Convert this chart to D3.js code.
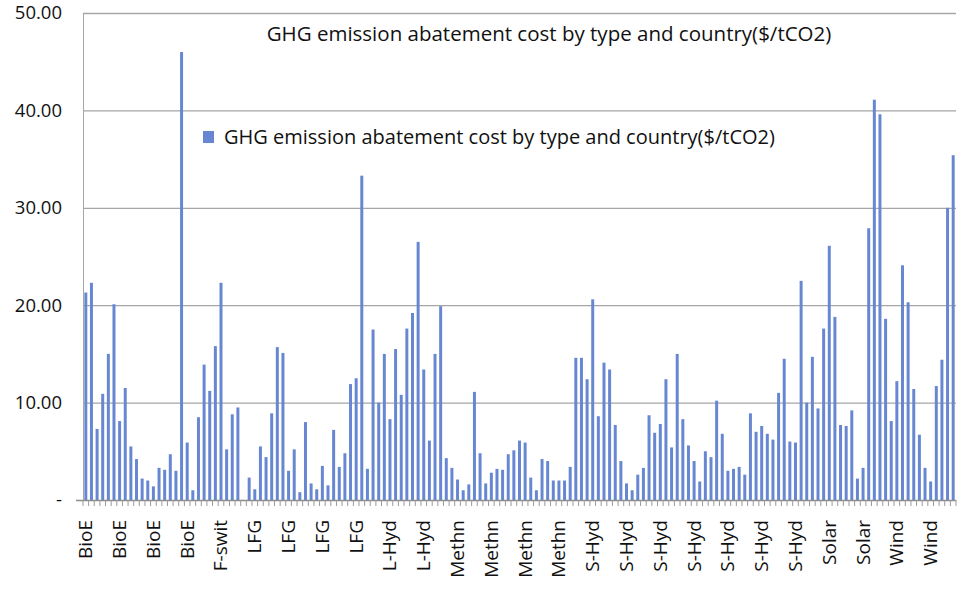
<!DOCTYPE html>
<html>
<head>
<meta charset="utf-8">
<script src="https://cdn.jsdelivr.net/npm/d3@7"></script>
<style>
  html, body { margin: 0; padding: 0; background: #fff; }
  svg { display: block; font-family: "Open Sans", "Noto Sans", sans-serif; }
</style>
</head>
<body>
<svg id="chart" width="966" height="595"></svg>
<script>
const chartTitle = "GHG emission abatement cost by type and country($/tCO2)";
const seriesName = "GHG emission abatement cost by type and country($/tCO2)";

// Labels shown on the category axis (one every 6 categories)
const tickLabels = ["BioE","BioE","BioE","BioE","F-swit","LFG","LFG","LFG","LFG",
  "L-Hyd","L-Hyd","Methn","Methn","Methn","Methn",
  "S-Hyd","S-Hyd","S-Hyd","S-Hyd","S-Hyd","S-Hyd","S-Hyd",
  "Solar","Solar","Wind","Wind"];

// Abatement cost values ($/tCO2), one per category, in order
const values = [
  21.3, 22.3, 7.3, 10.9, 15.0, 20.1, 8.1, 11.5, 5.5, 4.2, 2.2, 2.0, 1.4, 3.3, 3.1, 4.7, 3.0, 46.0, 5.9, 1.0, 8.5, 13.9, 11.2, 15.8, 22.3, 5.2,
  8.8, 9.5, 0, 2.3, 1.1, 5.5, 4.4, 8.9, 15.7, 15.1, 3.0, 5.2, 0.8, 8.0, 1.7, 1.1, 3.5, 1.5, 7.2, 3.4, 4.8, 11.9, 12.5, 33.3, 3.2, 17.5,
  10.0, 15.0, 8.3, 15.5, 10.8, 17.6, 19.2, 26.5, 13.4, 6.1, 15.0, 19.9, 4.3, 3.3, 2.1, 1.0, 1.6, 11.1, 4.8, 1.7, 2.8, 3.2, 3.1, 4.7, 5.1, 6.1,
  5.9, 2.3, 1.0, 4.2, 4.0, 2.0, 2.0, 2.0, 3.4, 14.6, 14.6, 12.4, 20.6, 8.6, 14.1, 13.4, 7.7, 4.0, 1.7, 1.0, 2.6, 3.3, 8.7, 6.9, 7.8,
  12.4, 5.4, 15.0, 8.3, 5.6, 4.0, 1.9, 5.0, 4.4, 10.2, 6.8, 3.0, 3.2, 3.4, 2.6, 8.9, 7.0, 7.6, 6.8, 6.2, 11.0, 14.5, 6.0, 5.9, 22.5, 10.0, 14.7,
  9.4, 17.6, 26.1, 18.8, 7.7, 7.6, 9.2, 2.2, 3.3, 27.9, 41.1, 39.6, 18.6, 8.1, 12.2, 24.1, 20.3, 11.4, 6.7, 3.3, 1.9, 11.7, 14.4, 30.0, 35.4
];
const categories = d3.range(values.length);
const labelEvery = 6;
const yTicks = [0, 10, 20, 30, 40, 50];

const svg = d3.select("#chart");
const mLeft = 83, mRight = 956, mTop = 13, mBottom = 500;
const barColor = "#6787d3";
const gridColor = "#a6a6a6";

const x = d3.scaleBand().domain(categories).range([mLeft, mRight])
  .paddingInner(0.47).paddingOuter(0.235);
const y = d3.scaleLinear().domain([0, 50]).range([mBottom, mTop]);

// gridlines + y labels
const yAxis = d3.axisLeft(y).tickValues(yTicks)
  .tickSize(-(mRight - mLeft)).tickPadding(21)
  .tickFormat(d => d === 0 ? "-" : d3.format(".2f")(d));
const gy = svg.append("g").attr("transform", `translate(${mLeft},0)`).call(yAxis);
gy.select(".domain").attr("stroke", gridColor);
gy.selectAll(".tick line").attr("stroke", gridColor).attr("stroke-width", 1.3);
gy.selectAll(".tick text").attr("font-size", 18.5).attr("fill", "#111")
  .attr("font-family", "'Open Sans', sans-serif");
gy.selectAll(".tick").filter(d => d === 0).select("line").remove();

// bars
svg.append("g").selectAll("rect").data(categories).join("rect")
  .attr("x", i => x(i))
  .attr("width", x.bandwidth())
  .attr("y", i => y(values[i]))
  .attr("height", i => y(0) - y(values[i]))
  .attr("fill", barColor);

// category axis line with ticks between categories
const step = x.step();
const x0 = x.range()[0];
const gx = svg.append("g");
gx.append("line").attr("x1", mLeft - 7).attr("x2", mRight)
  .attr("y1", mBottom + 0.5).attr("y2", mBottom + 0.5)
  .attr("stroke", "#8c8c8c").attr("stroke-width", 1.5);
gx.selectAll("line.tk").data(d3.range(values.length + 1)).join("line")
  .attr("class", "tk")
  .attr("x1", k => x0 + k * step).attr("x2", k => x0 + k * step)
  .attr("y1", mBottom).attr("y2", mBottom + 6)
  .attr("stroke", "#9a9a9a").attr("stroke-width", 1);

// category labels (rotated)
gx.selectAll("text.cl").data(tickLabels).join("text")
  .attr("class", "cl")
  .attr("transform", (t, j) => {
    const i = j * labelEvery;
    return `translate(${x(i) + x.bandwidth() / 2 + 6.5},${mBottom + 20}) rotate(-90)`;
  })
  .attr("text-anchor", "end")
  .attr("font-size", 19)
  .attr("fill", "#111")
  .text(t => t);

// title
svg.append("text").attr("x", 549).attr("y", 41)
  .attr("text-anchor", "middle").attr("font-size", 20.5).attr("fill", "#111")
  .text(chartTitle);

// legend
const lg = svg.append("g").attr("transform", "translate(203,131)");
lg.append("rect").attr("width", 11).attr("height", 12).attr("fill", barColor);
lg.append("text").attr("x", 21).attr("y", 13).attr("font-size", 20).attr("fill", "#111")
  .text(seriesName);
</script>
</body>
</html>
